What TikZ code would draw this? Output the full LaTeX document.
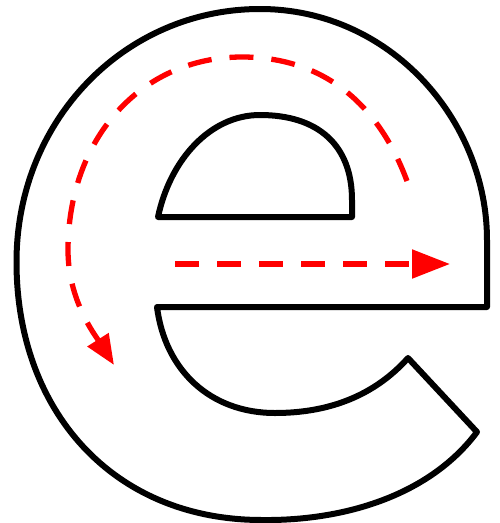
\documentclass[tikz,border=0pt]{standalone}
\usetikzlibrary{arrows.meta}
\begin{document}
\begin{tikzpicture}[x=1pt,y=-1pt,
  outline/.style={draw=black,line width=6pt,line join=round},
  guide/.style={draw=red,line width=5.3pt,dash pattern=on 24pt off 18pt}]
\useasboundingbox (0,0) rectangle (500,523);
% outer contour of the letter e
\path[outline] (477,432) .. controls (430,495) and (345,521) .. (262,520)
  .. controls (112,520) and (16.5,410) .. (16.5,262)
  .. controls (16.5,120) and (125,9) .. (260,9)
  .. controls (390,9) and (487,120) .. (487,240)
  -- (487,307) -- (157,307)
  .. controls (165,370) and (210,413) .. (275,413)
  .. controls (330,413) and (375,395) .. (408,358)
  -- cycle;
% eye (counter)
\path[outline] (158,217) .. controls (170,160) and (210,115) .. (260,115)
  .. controls (318,115) and (352,145) .. (352,200)
  -- (352,217) -- cycle;
% stroke guides
\coordinate (a0) at (407,181);
\coordinate (a1) at (242,57);
\coordinate (a2) at (68,250);
\coordinate (a3) at (114,365);
\draw[guide,-{Triangle[length=30pt,width=24pt]}] (a0) .. controls (375,95) and (315,57) .. (a1)
  .. controls (140,57) and (68,140) .. (a2)
  .. controls (68,300) and (95,335) .. (a3);
\coordinate (b0) at (175,264);
\coordinate (b1) at (450,264);
\draw[guide,-{Triangle[length=38pt,width=28pt]}] (b0) -- (b1);
\end{tikzpicture}
\end{document}
